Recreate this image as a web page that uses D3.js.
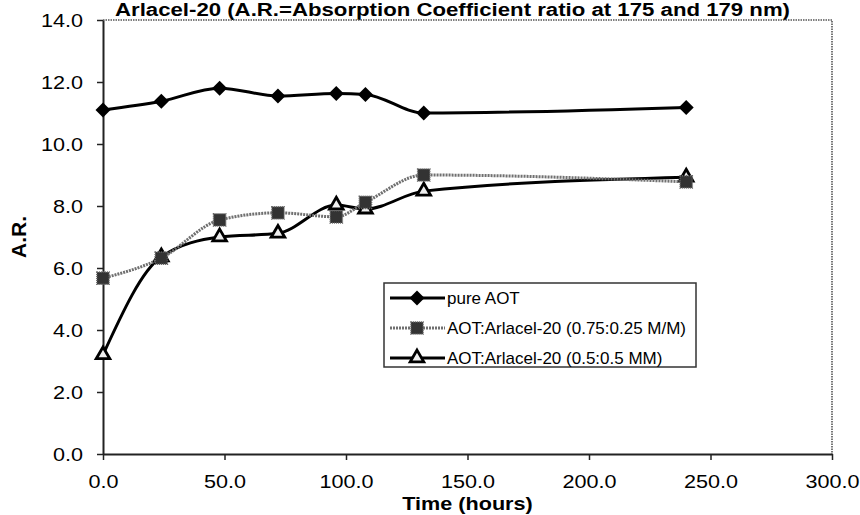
<!DOCTYPE html>
<html lang="en">
  <head>
    <meta charset="UTF-8" />
    <title>A.R. vs time</title>
    <script src="https://cdn.jsdelivr.net/npm/d3@7/dist/d3.min.js"></script>
    <style>
      body { margin: 0; background: #fff; }
      text { font-family: "Liberation Sans", Arial, sans-serif; fill: #000; }
      /* the scanned figure is stretched sideways a bit */
      .wide { transform-box: fill-box; transform: scaleX(1.2); }
      .wide-r { transform-origin: 100% 50%; }
      .wide-c { transform-origin: 50% 50%; }
      .wide-l { transform-origin: 0% 50%; }
    </style>
  </head>
  <body>
    <div id="wrapper"></div>
    <script>
      // data
      const hours = [0, 24, 48, 72, 96, 108, 132, 240];
      const pureAOT = [11.1, 11.38, 11.8, 11.55, 11.63, 11.6, 11.0, 11.18];
      const aotArl75 = [5.67, 6.32, 7.55, 7.78, 7.65, 8.12, 9.0, 8.78];
      const aotArl50 = [3.2, 6.36, 7.0, 7.12, 8.03, 7.9, 8.48, 8.93];
      const seriesNames = [
        "pure AOT",
        "AOT:Arlacel-20 (0.75:0.25 M/M)",
        "AOT:Arlacel-20 (0.5:0.5 MM)",
      ];
      const xTicks = [0, 50, 100, 150, 200, 250, 300];
      const yTicks = [0, 2, 4, 6, 8, 10, 12, 14];

      const dimensions = {
        width: 860,
        height: 515,
        margin: { top: 20, right: 28, bottom: 61, left: 103 },
      };
      dimensions.boundedWidth =
        dimensions.width - dimensions.margin.left - dimensions.margin.right;
      dimensions.boundedHeight =
        dimensions.height - dimensions.margin.top - dimensions.margin.bottom;

      const svg = d3
        .select("#wrapper")
        .append("svg")
        .attr("width", dimensions.width)
        .attr("height", dimensions.height);

      svg
        .append("text")
        .attr("class", "wide wide-l")
        .attr("x", 115)
        .attr("y", 16)
        .attr("font-size", 18.5)
        .attr("font-weight", "bold")
        .text("Arlacel-20 (A.R.=Absorption Coefficient ratio at 175 and 179 nm)");

      const bounds = svg
        .append("g")
        .attr(
          "transform",
          `translate(${dimensions.margin.left},${dimensions.margin.top})`
        );

      const xScale = d3
        .scaleLinear()
        .domain([0, 300])
        .range([0, dimensions.boundedWidth]);
      const yScale = d3
        .scaleLinear()
        .domain([0, 14])
        .range([dimensions.boundedHeight, 0]);

      // plot frame, top and right edges dotted grey
      bounds
        .append("path")
        .attr("d", `M0,0H${dimensions.boundedWidth}V${dimensions.boundedHeight}`)
        .attr("fill", "none")
        .attr("stroke", "#555")
        .attr("stroke-width", 1.6)
        .attr("stroke-dasharray", "1.5,1");

      const yAxis = bounds
        .append("g")
        .call(
          d3
            .axisLeft(yScale)
            .tickValues(yTicks)
            .tickFormat(d3.format(".1f"))
            .tickSize(6)
            .tickSizeOuter(0)
        );
      yAxis.select(".domain").attr("stroke", "#222").attr("stroke-width", 2);
      yAxis.selectAll(".tick line").attr("stroke", "#222").attr("stroke-width", 1.5);
      yAxis
        .selectAll(".tick text")
        .attr("class", "wide wide-r")
        .attr("font-size", 18)
        .attr("font-family", null)
        .attr("x", -20)
        .attr("dy", "0.36em");

      const xAxis = bounds
        .append("g")
        .attr("transform", `translate(0,${dimensions.boundedHeight})`)
        .call(
          d3
            .axisBottom(xScale)
            .tickValues(xTicks)
            .tickFormat(d3.format(".1f"))
            .tickSize(6)
            .tickSizeOuter(0)
        );
      xAxis.select(".domain").attr("stroke", "#222").attr("stroke-width", 2);
      xAxis.selectAll(".tick line").attr("stroke", "#222").attr("stroke-width", 1.5);
      xAxis
        .selectAll(".tick text")
        .attr("class", "wide wide-c")
        .attr("font-size", 18)
        .attr("font-family", null)
        .attr("y", 28)
        .attr("dy", "0.36em");

      svg
        .append("text")
        .attr("class", "wide wide-c")
        .attr("x", dimensions.margin.left + dimensions.boundedWidth / 2)
        .attr("y", 510)
        .attr("text-anchor", "middle")
        .attr("font-size", 18)
        .attr("font-weight", "bold")
        .text("Time (hours)");

      svg
        .append("text")
        .attr(
          "transform",
          `translate(26,${dimensions.margin.top + dimensions.boundedHeight / 2}) rotate(-90)`
        )
        .attr("text-anchor", "middle")
        .attr("font-size", 21)
        .attr("font-weight", "bold")
        .text("A.R.");

      const series = [
        { name: seriesNames[0], values: pureAOT, stroke: "#000", dash: null, marker: "diamond" },
        { name: seriesNames[1], values: aotArl75, stroke: "#707070", dash: "2,1", marker: "square" },
        { name: seriesNames[2], values: aotArl50, stroke: "#000", dash: null, marker: "triangle" },
      ];

      const symbols = {
        diamond: () => "M0,-7.5L7.5,0L0,7.5L-7.5,0Z",
        square: d3.symbol().type(d3.symbolSquare).size(150),
        triangle: d3.symbol().type(d3.symbolTriangle).size(80),
      };

      function drawMarker(g, type, x, y) {
        const p = g
          .append("path")
          .attr("d", symbols[type]())
          .attr("transform", `translate(${x},${y})`);
        if (type === "diamond") {
          p.attr("fill", "#000");
        } else if (type === "square") {
          p.attr("fill", "#333")
            .attr("stroke", "#666")
            .attr("stroke-width", 1.5)
            .attr("stroke-dasharray", "1,1");
        } else {
          p.attr("fill", "#eee").attr("stroke", "#000").attr("stroke-width", 2.8);
        }
      }

      const lineGenerator = d3
        .line()
        .x((d, i) => xScale(hours[i]))
        .y((d) => yScale(d))
        .curve(d3.curveMonotoneX);

      // reverse order so pure AOT ends up on top
      series.slice().reverse().forEach((s) => {
        bounds
          .append("path")
          .attr("d", lineGenerator(s.values))
          .attr("fill", "none")
          .attr("stroke", s.stroke)
          .attr("stroke-width", 3)
          .attr("stroke-dasharray", s.dash);
        const g = bounds.append("g");
        s.values.forEach((v, i) => drawMarker(g, s.marker, xScale(hours[i]), yScale(v)));
      });

      // legend
      const legend = svg.append("g").attr("transform", "translate(384,283)");
      legend
        .append("rect")
        .attr("width", 312)
        .attr("height", 84)
        .attr("fill", "#fff")
        .attr("stroke", "#333")
        .attr("stroke-width", 1.5);
      series.forEach((s, i) => {
        const y = 15 + i * 30;
        legend
          .append("line")
          .attr("x1", 6)
          .attr("x2", 61)
          .attr("y1", y)
          .attr("y2", y)
          .attr("stroke", s.stroke)
          .attr("stroke-width", 3)
          .attr("stroke-dasharray", s.dash);
        drawMarker(legend, s.marker, 33, y);
        legend
          .append("text")
          .attr("x", 63)
          .attr("y", y)
          .attr("dy", "0.36em")
          .attr("font-size", 17)
          .text(s.name);
      });
    </script>
  </body>
</html>
